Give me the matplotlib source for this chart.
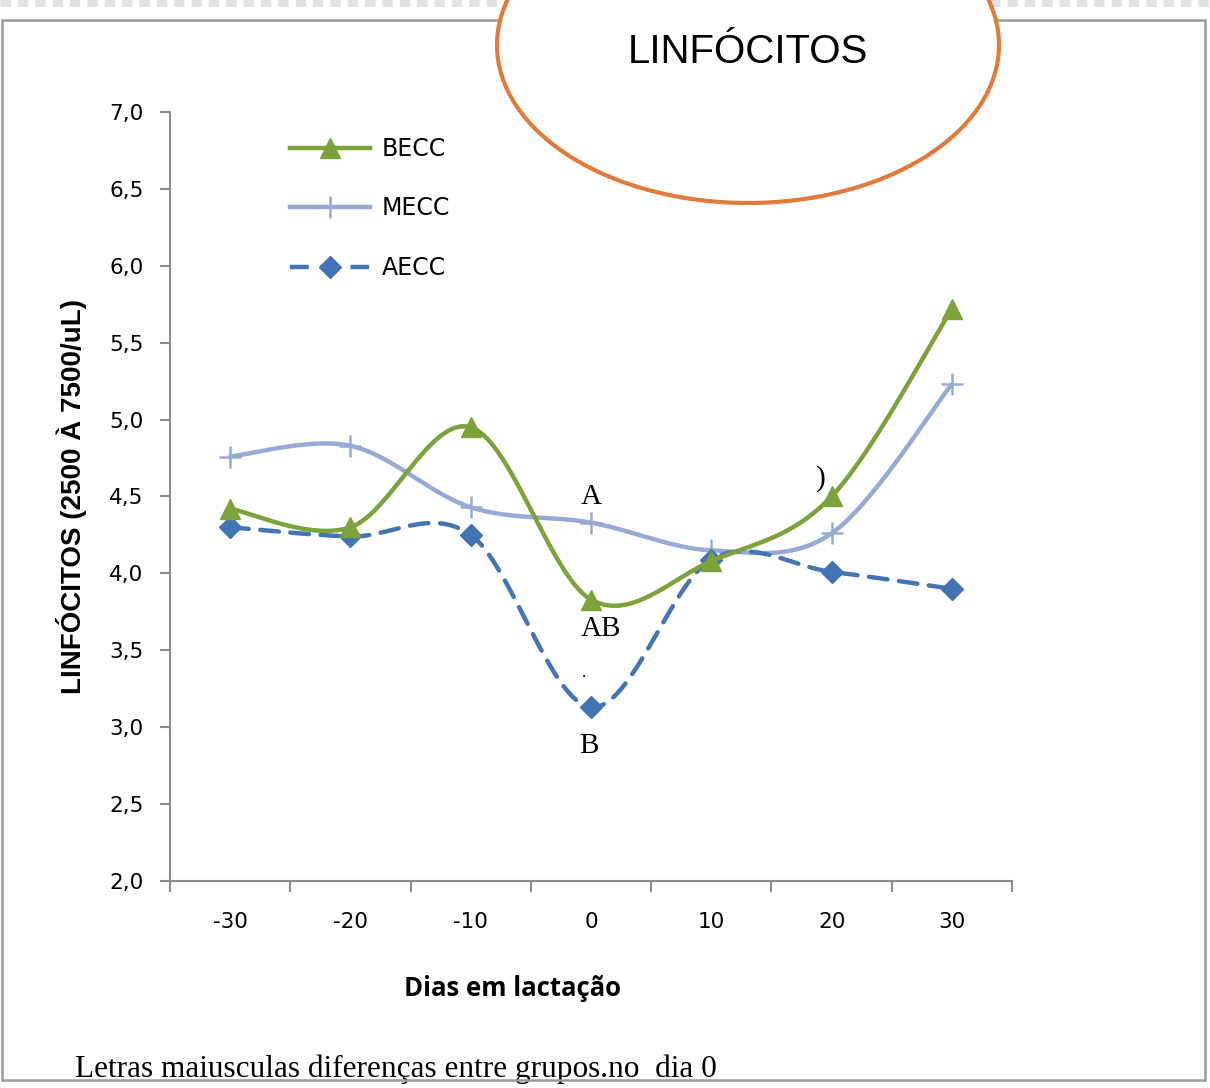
import numpy as np
import matplotlib
matplotlib.use("Agg")
import matplotlib.pyplot as plt
from matplotlib.patches import Ellipse, Rectangle
from matplotlib.lines import Line2D

days = ["-30", "-20", "-10", "0", "10", "20", "30"]
becc = [4.42, 4.30, 4.95, 3.83, 4.08, 4.50, 5.72]
mecc = [4.76, 4.83, 4.43, 4.33, 4.15, 4.26, 5.23]
aecc = [4.30, 4.24, 4.25, 3.13, 4.09, 4.01, 3.90]
y_ticks = [2.0, 2.5, 3.0, 3.5, 4.0, 4.5, 5.0, 5.5, 6.0, 6.5, 7.0]
y_tick_labels = ["2,0", "2,5", "3,0", "3,5", "4,0", "4,5", "5,0", "5,5", "6,0", "6,5", "7,0"]

C_B = "#7CA23B"
C_M = "#97AAD6"
C_A = "#4374B3"


def smooth(xs, ys, n=40):
    xs = np.asarray(xs, float)
    ys = np.asarray(ys, float)
    P = np.column_stack([xs, ys])
    Pe = np.vstack([P[0], P, P[-1]])
    out = []
    t = np.linspace(0, 1, n)[:, None]
    for i in range(len(P) - 1):
        p0, p1, p2, p3 = Pe[i], Pe[i + 1], Pe[i + 2], Pe[i + 3]
        c1 = p1 + (p2 - p0) / 6.0
        c2 = p2 - (p3 - p1) / 6.0
        seg = ((1 - t) ** 3) * p1 + 3 * ((1 - t) ** 2) * t * c1 + 3 * (1 - t) * t ** 2 * c2 + t ** 3 * p2
        out.append(seg if i == 0 else seg[1:])
    out = np.vstack(out)
    return out[:, 0], out[:, 1]


W, H = 1210, 1088
fig = plt.figure(figsize=(12.1, 10.88), dpi=100)
fig.patch.set_facecolor("white")

# faint dotted strip at the very top
fig.add_artist(Line2D([0, 1], [1 - 3 / H, 1 - 3 / H], transform=fig.transFigure,
                      color="#e2e2e2", lw=5, ls=(0, (1.5, 1.0)), zorder=0))

ax = fig.add_axes([170 / W, 1 - 881 / H, 842 / W, 769 / H])
x = np.arange(len(days))

sx, sy = smooth(x, mecc)
ax.plot(sx, sy, color=C_M, lw=3.2, solid_capstyle="round", zorder=2)
ax.plot(x, mecc, ls="none", marker="+", ms=16, mew=1.8, color=C_M, zorder=3)

sx, sy = smooth(x, aecc)
ax.plot(sx, sy, color=C_A, lw=3.2, ls=(0, (4.2, 2.6)), dash_capstyle="round", zorder=2)
ax.plot(x, aecc, ls="none", marker="D", ms=11, color=C_A, zorder=3)

sx, sy = smooth(x, becc)
ax.plot(sx, sy, color=C_B, lw=3.2, solid_capstyle="round", zorder=4)
ax.plot(x, becc, ls="none", marker="^", ms=15, color=C_B, zorder=5)

ax.set_xlim(-0.5, len(days) - 0.5)
ax.set_ylim(2.0, 7.0)
ax.set_yticks(y_ticks)
ax.set_yticklabels(y_tick_labels, fontsize=15.5, family="DejaVu Sans")
ax.set_xticks(x)
ax.set_xticklabels(days, fontsize=15.5, family="DejaVu Sans")
ax.set_xticks(np.arange(-0.5, len(days), 1.0), minor=True)
ax.tick_params(axis="x", which="major", length=0, pad=22)
ax.tick_params(axis="x", which="minor", length=8, width=1.5, color="#8c8c8c", direction="out")
ax.tick_params(axis="y", which="major", length=7, width=1.5, color="#8c8c8c", direction="out", pad=12)
for s in ["top", "right"]:
    ax.spines[s].set_visible(False)
for s in ["left", "bottom"]:
    ax.spines[s].set_color("#8c8c8c")
    ax.spines[s].set_linewidth(1.5)

ax.set_ylabel("LINFÓCITOS (2500 À 7500/uL)", fontsize=20, fontweight="bold",
              family=["Liberation Sans", "DejaVu Sans"])
ax.yaxis.set_label_coords(-0.098, 0.5)
ax.set_xlabel("Dias em lactação", fontsize=18.5, fontweight="bold",
              family=["Open Sans", "DejaVu Sans"])
ax.xaxis.set_label_coords((513 - 170) / 842, -(989 - 881) / 769)
ax.xaxis.label.set_va("center")

handles = [
    Line2D([], [], color=C_B, lw=3.2, marker="^", ms=15),
    Line2D([], [], color=C_M, lw=3.2, marker="+", ms=16, mew=1.8),
    Line2D([], [], color=C_A, lw=3.2, ls=(0, (4.2, 2.6)), marker="D", ms=11),
]
leg = ax.legend(handles, ["BECC", "MECC", "AECC"], loc="upper left",
                bbox_to_anchor=((290 - 170) / 842, (881 - 137) / 769), frameon=False,
                handlelength=3.4, labelspacing=1.5, handletextpad=0.5, borderpad=0,
                borderaxespad=0, prop={"size": 17, "family": "DejaVu Sans"})

# significance letters
tf = {"family": ["Liberation Serif", "DejaVu Serif"], "fontsize": 21, "ha": "center", "va": "center"}
ax.text(3.0, 4.50, "A", **tf)
ax.text(3.08, 3.64, "AB", **tf)
ax.text(2.98, 2.88, "B", **tf)
ax.text(4.91, 4.62, ")", **tf)
ax.text(2.94, 3.35, ".", family=["Liberation Serif", "DejaVu Serif"], fontsize=12,
        ha="center", va="center")

# title ellipse
fig.add_artist(Ellipse((748 / W, 1 - 45 / H), 502 / W, 316 / H,
                       transform=fig.transFigure, facecolor="white", edgecolor="#E07B3C", lw=3, zorder=10))
fig.text(748 / W, 1 - 52 / H, "LINFÓCITOS", ha="center", va="center", fontsize=29,
         family=["Liberation Sans", "DejaVu Sans"], zorder=11)

# footer note
fig.text(75 / W, 1 - 1077 / H, "Letras maiusculas diferenças entre grupos.no  dia 0",
         ha="left", va="baseline", fontsize=22.5, family=["Liberation Serif", "DejaVu Serif"],
         zorder=5)

# outer frame
fig.add_artist(Rectangle((2 / W, 1 - 1080 / H), 1203 / W, 1060 / H,
                         transform=fig.transFigure, fill=False, edgecolor="#9a9a9a", lw=1.8, zorder=7))

fig.savefig("out.png", dpi=100, facecolor="white")
